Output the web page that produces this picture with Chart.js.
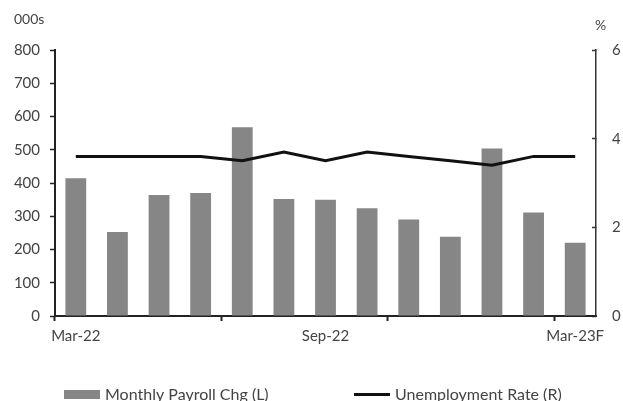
<!DOCTYPE html>
<html><head><meta charset="utf-8">
<script src="https://cdn.jsdelivr.net/npm/chart.js@4"></script>
<style>html,body{margin:0;padding:0;background:#fff}#wrap{width:623px;height:401px;position:relative}</style>
</head><body><div id="wrap"><canvas id="c"></canvas></div>
<script>
const categories = ['Mar-22','Apr-22','May-22','Jun-22','Jul-22','Aug-22','Sep-22','Oct-22','Nov-22','Dec-22','Jan-23','Feb-23','Mar-23F'];
const payrollChg = [414,253,364,370,568,352,350,324,290,238,504,311,220];
const unemploymentRate = [3.6,3.6,3.6,3.6,3.5,3.7,3.5,3.7,3.6,3.5,3.4,3.6,3.6];
const shownXLabels = ['Mar-22','Sep-22','Mar-23F'];
const xTickBoundaries = [0,4,8,12];
const leftAxisRange = [0,800,100];
const rightAxisRange = [0,6,2];
const seriesNames = ['Monthly Payroll Chg (L)','Unemployment Rate (R)'];
const unitLabels = ['000s','%'];

const FONT = 'Lato';
const TXT = '#444';
const BAR = '#868686';
const LINE = '#111';
Chart.defaults.font.family = FONT;
Chart.defaults.color = TXT;

const overlay = {
  id: 'overlay',
  afterDraw(chart) {
    const ctx = chart.ctx;
    const ds = chart.data.datasets;
    const barDs = ds.find(d => d.type === 'bar');
    const lineDs = ds.find(d => d.type === 'line');
    ctx.save();
    ctx.textBaseline = 'middle';
    ctx.textAlign = 'left';
    ctx.fillStyle = TXT;
    ctx.font = '14px ' + FONT;
    ctx.fillText(unitLabels[0], 14, 19);
    ctx.fillText(unitLabels[1], 595, 25);
    ctx.font = '16px ' + FONT;
    ctx.fillStyle = barDs.backgroundColor;
    ctx.fillRect(64, 390, 36, 9);
    ctx.fillStyle = TXT;
    ctx.fillText(barDs.label, 105, 394.5);
    ctx.strokeStyle = lineDs.borderColor;
    ctx.lineWidth = 3;
    ctx.beginPath(); ctx.moveTo(354, 394.5); ctx.lineTo(390, 394.5); ctx.stroke();
    ctx.fillText(lineDs.label, 395, 394.5);
    ctx.restore();
  }
};

new Chart(document.getElementById('c'), {
  type: 'bar',
  data: {
    labels: categories,
    datasets: [
      { type: 'line', label: seriesNames[1], data: unemploymentRate, yAxisID: 'y1',
        borderColor: LINE, borderWidth: 3, pointRadius: 0, tension: 0, order: 0, fill: false },
      { type: 'bar', label: seriesNames[0], data: payrollChg, yAxisID: 'y',
        backgroundColor: BAR, barPercentage: 0.5, categoryPercentage: 1, order: 1 }
    ]
  },
  options: {
    responsive: true, maintainAspectRatio: false, animation: false,
    layout: { padding: { top: 50, left: 0, right: 0, bottom: 0 } },
    plugins: { legend: { display: false }, tooltip: { enabled: false } },
    scales: {
      x: {
        offset: true,
        grid: { offset: true, drawOnChartArea: false, drawTicks: true, tickLength: 5, tickWidth: 2,
          tickColor: c => xTickBoundaries.includes(c.index) ? '#222' : 'rgba(0,0,0,0)' },
        border: { display: true, color: '#222', width: 2 },
        ticks: { autoSkip: false, maxRotation: 0, padding: 6, font: { size: 15 },
          callback: function(v, i) { const l = this.getLabelForValue(v); return shownXLabels.includes(l) ? l : ''; } },
        afterFit: s => { s.height = 85; }
      },
      y: {
        position: 'left', min: leftAxisRange[0], max: leftAxisRange[1],
        grid: { drawOnChartArea: false, tickLength: 5, tickColor: '#222', tickWidth: 1.5 },
        border: { display: true, color: '#222', width: 2 },
        ticks: { stepSize: leftAxisRange[2], padding: 10, font: { size: 15 } },
        afterFit: s => { s.width = 55; }
      },
      y1: {
        position: 'right', min: rightAxisRange[0], max: rightAxisRange[1],
        grid: { drawOnChartArea: false, tickLength: -4, tickColor: '#333', tickWidth: 1.5 },
        border: { display: true, color: '#333', width: 1.5 },
        ticks: { stepSize: rightAxisRange[2], padding: 20, font: { size: 15 } },
        afterFit: s => { s.width = 27; }
      }
    }
  },
  plugins: [overlay]
});
</script></body></html>
